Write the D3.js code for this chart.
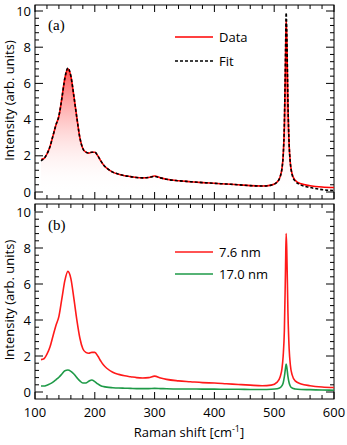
<!DOCTYPE html>
<html><head><meta charset="utf-8">
<script src="https://cdn.jsdelivr.net/npm/d3@7"></script>
<style>body{margin:0;background:#fff}svg{display:block}</style>
</head><body>
<script>
// ---- data ----
const shift = [110,115,120,125,130,135,140,145,150,155,160,165,170,175,180,185,190,195,200,205,210,215,220,230,240,250,260,270,280,290,300,310,320,340,360,380,400,420,440,460,480,495,505,510,513,515,517,519,520,521,523,525,527,530,535,545,560,580,600];
const dataA = [1.8,1.85,2.1,2.5,3.1,3.7,4.2,5.2,6.3,6.8,6.4,5.3,4.1,3.0,2.4,2.2,2.15,2.2,2.2,2.0,1.72,1.48,1.32,1.1,0.98,0.9,0.85,0.8,0.78,0.8,0.88,0.78,0.7,0.62,0.57,0.52,0.48,0.44,0.4,0.35,0.33,0.38,0.55,0.85,1.3,2.0,3.6,7.5,9.5,8.6,4.8,2.6,1.6,1.0,0.65,0.45,0.35,0.28,0.25];
const fitA  = [1.72,1.85,2.1,2.5,3.1,3.7,4.2,5.2,6.3,6.85,6.4,5.3,4.1,3.0,2.4,2.2,2.15,2.2,2.2,2.0,1.72,1.48,1.32,1.1,0.98,0.9,0.85,0.8,0.78,0.8,0.86,0.78,0.7,0.62,0.57,0.52,0.48,0.44,0.4,0.35,0.33,0.38,0.55,0.85,1.3,2.0,3.8,7.9,9.9,8.9,4.9,2.6,1.6,0.95,0.6,0.38,0.25,0.13,0.08];
const nm76  = [1.8,1.85,2.1,2.5,3.1,3.7,4.2,5.2,6.2,6.7,6.3,5.2,4.0,3.0,2.4,2.2,2.15,2.2,2.2,2.0,1.72,1.48,1.32,1.1,0.98,0.9,0.85,0.8,0.78,0.8,0.88,0.78,0.7,0.62,0.57,0.52,0.5,0.46,0.42,0.38,0.35,0.38,0.55,0.85,1.3,2.0,3.4,7.0,8.8,7.9,4.4,2.4,1.5,0.95,0.62,0.45,0.35,0.28,0.25];
const nm170 = [0.33,0.33,0.38,0.45,0.55,0.68,0.82,1.0,1.18,1.22,1.15,1.0,0.8,0.62,0.5,0.5,0.6,0.67,0.58,0.45,0.35,0.3,0.27,0.24,0.22,0.21,0.2,0.19,0.19,0.19,0.2,0.19,0.18,0.17,0.17,0.16,0.16,0.15,0.15,0.14,0.14,0.15,0.18,0.24,0.35,0.5,0.85,1.35,1.55,1.4,0.85,0.5,0.32,0.22,0.17,0.14,0.13,0.11,0.1];
const xTicks = [100,200,300,400,500,600];
const yTicks = [0,2,4,6,8,10];
const legendA = ["Data","Fit"];
const legendB = ["7.6 nm","17.0 nm"];

const W = 347, H = 445;
const svg = d3.select("body").append("svg").attr("width", W).attr("height", H);
const font = "'Open Sans', 'Liberation Sans', sans-serif";
const x = d3.scaleLinear().domain([100, 600]).range([35, 334]);

const defs = svg.append("defs");

function panel(top, bottom, yZero, yTen, showXLabels) {
  const pxPer = (yZero - yTen) / 10;
  const y = d3.scaleLinear()
    .domain([-(bottom - yZero) / pxPer, 10 + (yTen - top) / pxPer])
    .range([bottom, top]);
  const g = svg.append("g");
  const minorX = d3.range(100, 601, 20);
  const minorY = d3.range(0, 51, 2).map(v => v / 5); // every 0.4
  const tk = g.append("g").attr("stroke", "#000").attr("stroke-width", 1);
  minorX.forEach(v => {
    const L = v % 100 === 0 ? 7 : 4;
    tk.append("line").attr("x1", x(v)).attr("x2", x(v)).attr("y1", bottom).attr("y2", bottom - L);
    tk.append("line").attr("x1", x(v)).attr("x2", x(v)).attr("y1", top).attr("y2", top + L);
  });
  minorY.forEach(v => {
    const major = Math.abs(v / 2 - Math.round(v / 2)) < 1e-6;
    const L = major ? 8 : 4;
    tk.append("line").attr("y1", y(v)).attr("y2", y(v)).attr("x1", x(100)).attr("x2", x(100) + L);
    tk.append("line").attr("y1", y(v)).attr("y2", y(v)).attr("x1", x(600)).attr("x2", x(600) - L);
  });
  g.append("rect").attr("x", x(100)).attr("y", top).attr("width", x(600) - x(100)).attr("height", bottom - top)
    .attr("fill", "none").attr("stroke", "#000").attr("stroke-width", 1);
  g.selectAll("text.yt").data(yTicks).enter().append("text")
    .attr("x", 31).attr("y", d => y(d)).attr("dy", "0.35em").attr("text-anchor", "end")
    .attr("font-family", font).attr("font-size", 13).text(d => d);
  if (showXLabels) {
    g.selectAll("text.xt").data(xTicks).enter().append("text")
      .attr("x", d => x(d)).attr("y", bottom + 18).attr("text-anchor", "middle")
      .attr("font-family", font).attr("font-size", 13).text(d => d);
  }
  g.append("text").attr("transform", `translate(14,${(top + yZero) / 2 + 2}) rotate(-90)`)
    .attr("text-anchor", "middle").attr("font-family", font).attr("font-size", 13)
    .text("Intensity (arb. units)");
  return {g, y};
}

// Panel (a)
const A = panel(5, 199, 192, 11, false);
const lineA = d3.line().x((d, i) => x(shift[i])).y(d => A.y(d)).curve(d3.curveMonotoneX);
const areaA = d3.area().x((d, i) => x(shift[i])).y0(A.y(0)).y1(d => A.y(d)).curve(d3.curveMonotoneX);
const grad = defs.append("linearGradient").attr("id", "gA").attr("gradientUnits", "userSpaceOnUse")
  .attr("x1", 0).attr("x2", 0).attr("y1", A.y(6.8)).attr("y2", A.y(0));
grad.append("stop").attr("offset", 0).attr("stop-color", "#ff2020").attr("stop-opacity", 0.75);
grad.append("stop").attr("offset", 1).attr("stop-color", "#ffffff").attr("stop-opacity", 0);
A.g.append("path").attr("d", areaA(dataA)).attr("fill", "url(#gA)");
A.g.append("path").attr("d", lineA(dataA)).attr("fill", "none").attr("stroke", "#ff0000").attr("stroke-width", 1.6);
A.g.append("path").attr("d", lineA(fitA)).attr("fill", "none").attr("stroke", "#000").attr("stroke-width", 1.6).attr("stroke-dasharray", "3,2");
A.g.append("text").attr("x", 48).attr("y", 30).attr("font-family", "'Liberation Serif', serif").attr("font-size", 15).text("(a)");
// legend a
A.g.append("line").attr("x1", 175).attr("x2", 213).attr("y1", 37).attr("y2", 37).attr("stroke", "#ff0000").attr("stroke-width", 1.6);
A.g.append("line").attr("x1", 175).attr("x2", 213).attr("y1", 61).attr("y2", 61).attr("stroke", "#000").attr("stroke-width", 1.6).attr("stroke-dasharray", "3,2");
A.g.append("text").attr("x", 219).attr("y", 37).attr("dy", "0.35em").attr("font-family", font).attr("font-size", 13).text(legendA[0]);
A.g.append("text").attr("x", 219).attr("y", 61).attr("dy", "0.35em").attr("font-family", font).attr("font-size", 13).text(legendA[1]);

// Panel (b)
const B = panel(204, 399, 392, 212, true);
const lineB = d3.line().x((d, i) => x(shift[i])).y(d => B.y(d)).curve(d3.curveMonotoneX);
B.g.append("path").attr("d", lineB(nm76)).attr("fill", "none").attr("stroke", "#ff1a1a").attr("stroke-width", 1.6);
B.g.append("path").attr("d", lineB(nm170)).attr("fill", "none").attr("stroke", "#1e9a47").attr("stroke-width", 1.6);
B.g.append("text").attr("x", 48).attr("y", 230).attr("font-family", "'Liberation Serif', serif").attr("font-size", 15).text("(b)");
B.g.append("line").attr("x1", 175).attr("x2", 213).attr("y1", 252).attr("y2", 252).attr("stroke", "#ff1a1a").attr("stroke-width", 1.6);
B.g.append("line").attr("x1", 175).attr("x2", 213).attr("y1", 274).attr("y2", 274).attr("stroke", "#1e9a47").attr("stroke-width", 1.6);
B.g.append("text").attr("x", 219).attr("y", 252).attr("dy", "0.35em").attr("font-family", font).attr("font-size", 13).text(legendB[0]);
B.g.append("text").attr("x", 219).attr("y", 274).attr("dy", "0.35em").attr("font-family", font).attr("font-size", 13).text(legendB[1]);

// x axis title
const xt = svg.append("text").attr("x", 189).attr("y", 437).attr("text-anchor", "middle")
  .attr("font-family", font).attr("font-size", 13);
xt.append("tspan").text("Raman shift [cm");
xt.append("tspan").attr("dy", -5).attr("font-size", 9).text("-1");
xt.append("tspan").attr("dy", 5).text("]");
</script>
</body></html>
